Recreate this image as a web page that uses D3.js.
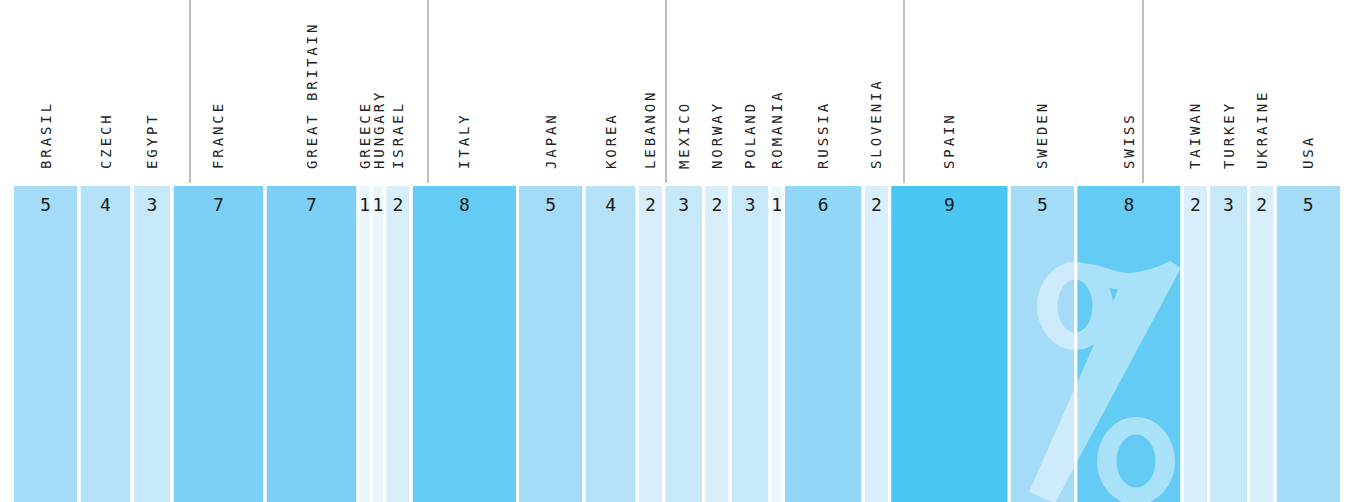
<!DOCTYPE html>
<html lang="en">
<head>
  <meta charset="UTF-8">
  <title>Share by country</title>
  <script src="https://d3js.org/d3.v7.min.js"></script>
  <style>
    html, body { margin: 0; padding: 0; background: #fff; }
    svg { display: block; }
    .label { font-family: "DejaVu Sans Mono", monospace; font-size: 14px; fill: #222; letter-spacing: 2.9px; }
    .value { font-family: "DejaVu Sans Mono", monospace; font-size: 18px; fill: #1a1a1a; }
  </style>
</head>
<body>
<svg id="chart" width="1346" height="502"></svg>
<script>
// Data
const countries = ['BRASIL','CZECH','EGYPT','FRANCE','GREAT BRITAIN','GREECE','HUNGARY','ISRAEL',
  'ITALY','JAPAN','KOREA','LEBANON','MEXICO','NORWAY','POLAND','ROMANIA','RUSSIA','SLOVENIA',
  'SPAIN','SWEDEN','SWISS','TAIWAN','TURKEY','UKRAINE','USA'];
const shares = [5,4,3,7,7,1,1,2,8,5,4,2,3,2,3,1,6,2,9,5,8,2,3,2,5];

// Layout
const width = 1346, height = 502;
const left = 14, right = 1343, gap = 3;
const barTop = 186, labelBase = 169, valueBase = 211;
const dividers = [190, 428, 666, 904, 1143];

const svg = d3.select('#chart');

const total = d3.sum(shares);
const x = d3.scaleLinear().domain([0, total]).range([left, right]);
const color = d3.scaleLinear()
  .domain([1, 3, 5, 7, 9])
  .range(['#e9f6fd', '#c6e8f8', '#a4dcf7', '#7ccff4', '#4ac6f3']);

let acc = 0;
const cells = countries.map((c, i) => {
  const d = { name: c, v: shares[i], x0: acc };
  acc += shares[i];
  d.cx = (x(d.x0) + x(d.x0 + d.v) - gap) / 2;
  return d;
});

// label baselines, pushed apart where columns are too narrow
let prev = -Infinity;
cells.forEach(d => {
  d.lx = Math.max(d.cx + 5, prev + 14.5);
  prev = d.lx;
});

// Divider lines at top
svg.selectAll('.divider').data(dividers).enter().append('line')
  .attr('class', 'divider')
  .attr('x1', d => d).attr('x2', d => d)
  .attr('y1', 0).attr('y2', 183)
  .attr('stroke', '#aaa').attr('stroke-width', 1.5);

// Bars
svg.selectAll('.cell').data(cells).enter().append('rect')
  .attr('class', 'cell')
  .attr('x', d => x(d.x0))
  .attr('y', barTop)
  .attr('width', d => x(d.v) - x(0) - gap)
  .attr('height', height - barTop)
  .attr('fill', d => color(d.v));

// Big decorative percent sign (drawn as a path, local coords)
function ring(cx, cy, rx, ry, ix, iy) {
  const e = (a, b) => `M${cx - a},${cy} a${a},${b} 0 1,0 ${2 * a},0 a${a},${b} 0 1,0 ${-2 * a},0 Z`;
  return e(rx, ry) + e(ix, iy);
}
svg.append('clipPath').attr('id', 'clip')
  .append('rect').attr('x', 0).attr('y', barTop).attr('width', width).attr('height', height - barTop);
const pct = svg.append('g').attr('clip-path', 'url(#clip)')
  .append('g').attr('opacity', 0.45).attr('fill', '#fff')
  .attr('transform', 'translate(1030,262)');
pct.append('path').attr('fill-rule', 'evenodd').attr('d', ring(45, 44, 38, 44, 17.5, 26.5));
pct.append('path').attr('fill-rule', 'evenodd').attr('d', ring(106, 199, 39, 44, 19.5, 26.5));
pct.append('path').attr('d',
  'M48,2 C68,-1 84,12 100,11 C115,10 128,5 140,-1 L151,6 L25,241 L-1,230 L88,28 ' +
  'C80,25 76,26 70,24 Z');

// Gap lines redrawn on top so they stay white
svg.selectAll('.gapline').data(cells.slice(1)).enter().append('rect')
  .attr('x', d => x(d.x0) - gap).attr('y', barTop)
  .attr('width', gap).attr('height', height - barTop)
  .attr('fill', '#fff');

// Values
svg.selectAll('.value').data(cells).enter().append('text')
  .attr('class', 'value')
  .attr('x', d => d.cx)
  .attr('y', valueBase)
  .attr('text-anchor', 'middle')
  .text(d => d.v);

// Country labels
svg.selectAll('.label').data(cells).enter().append('text')
  .attr('class', 'label')
  .attr('transform', d => `translate(${d.lx},${labelBase}) rotate(-90)`)
  .text(d => d.name);
</script>
</body>
</html>
